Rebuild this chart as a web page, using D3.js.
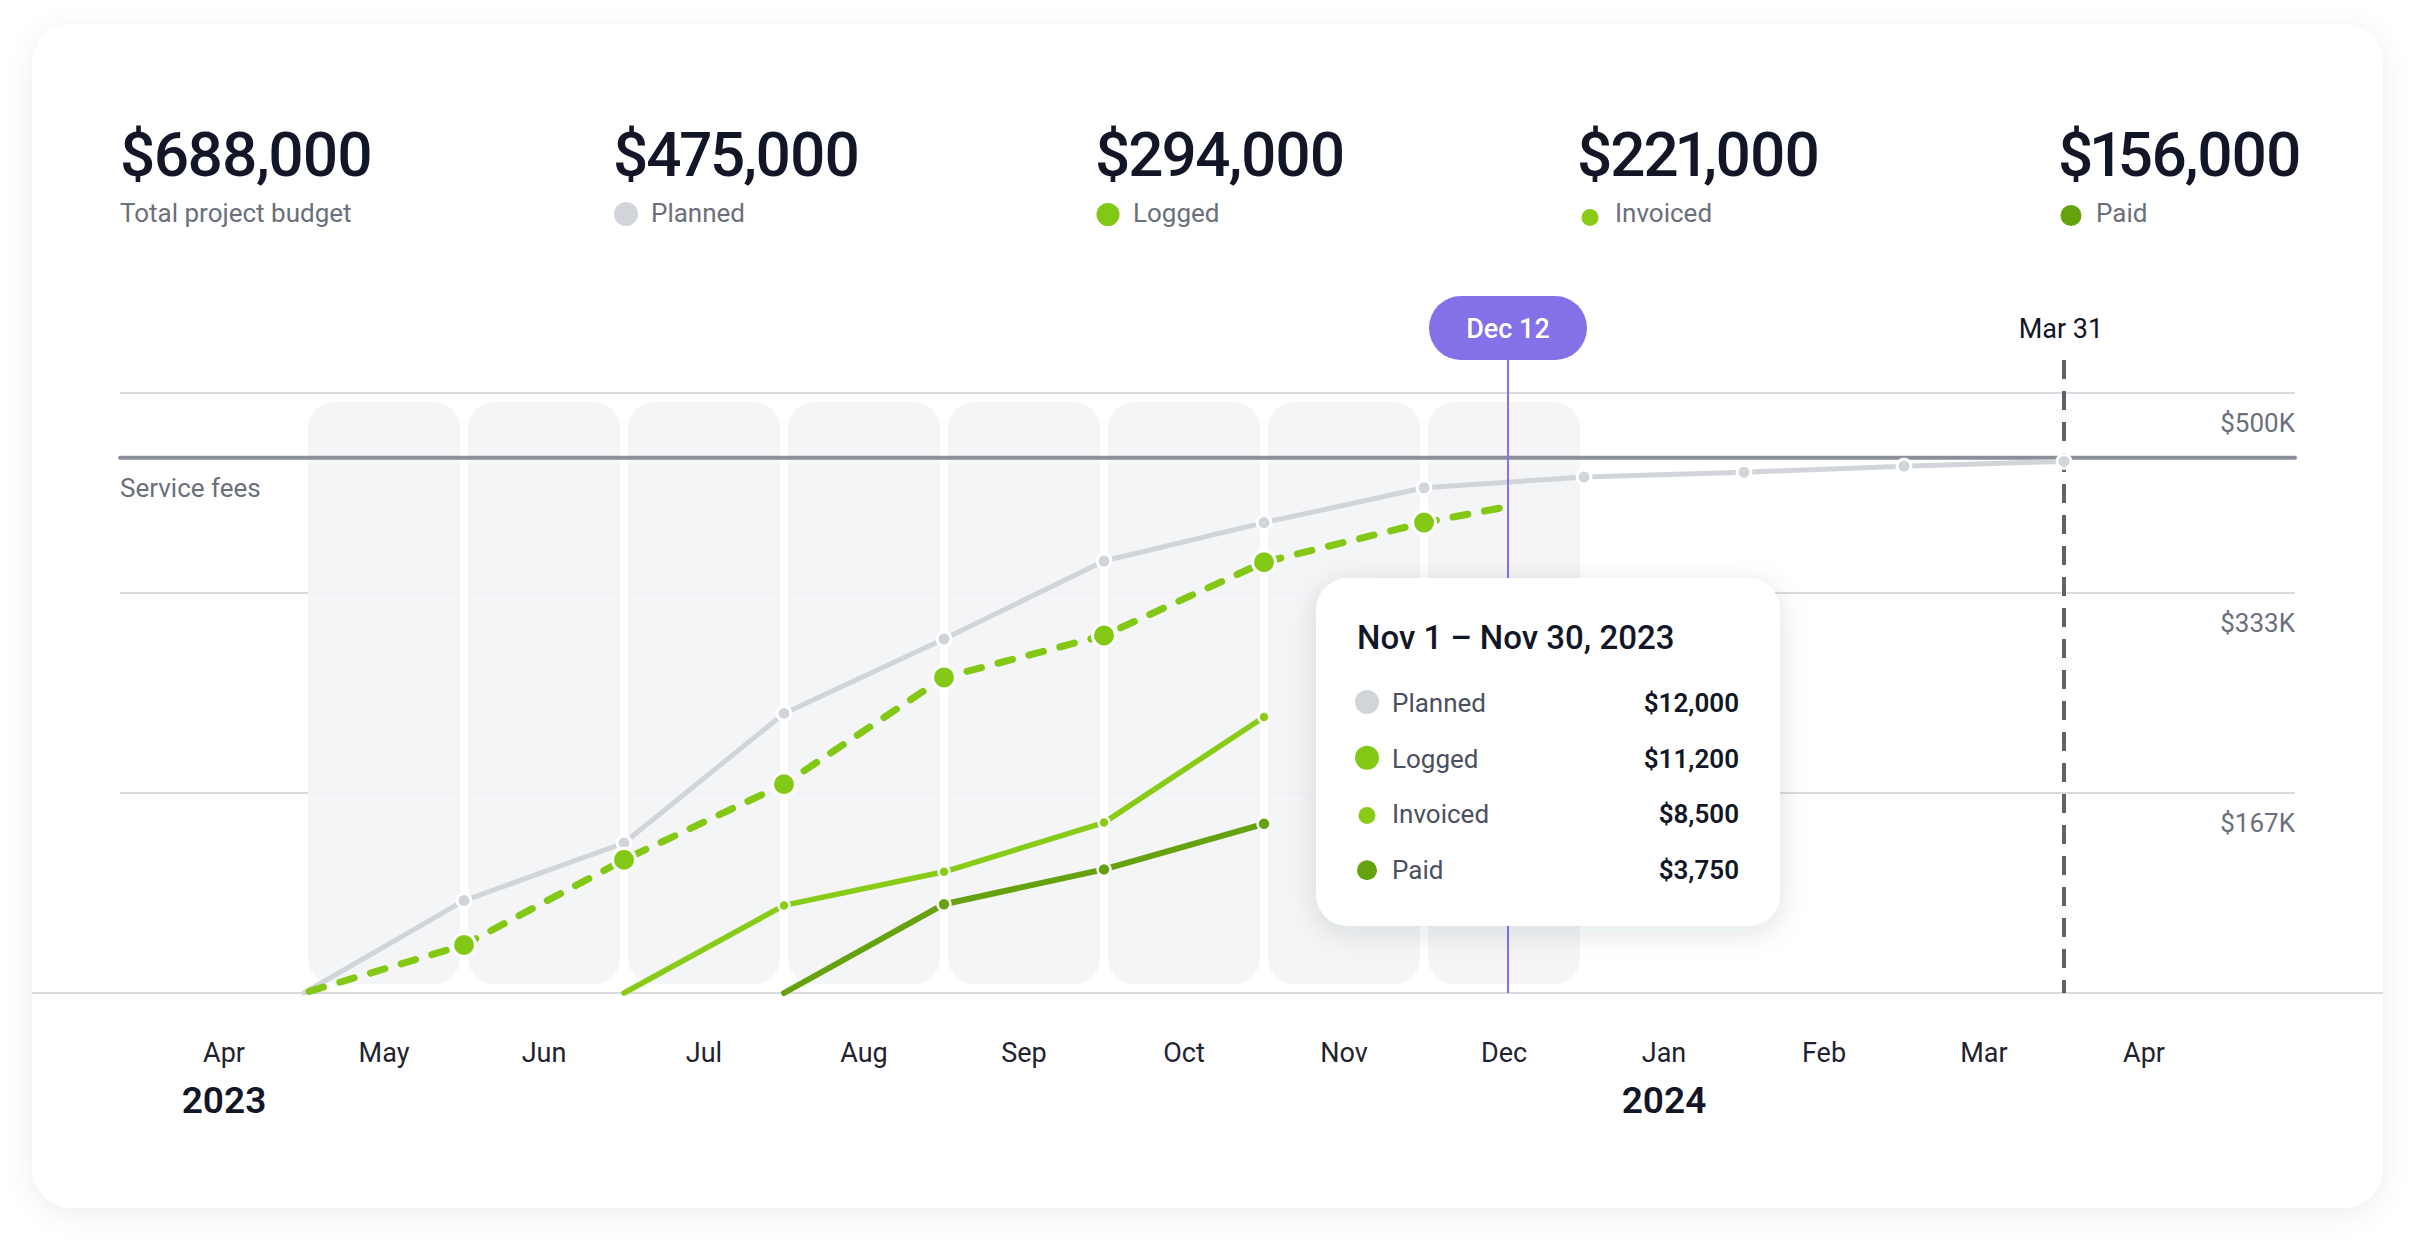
<!DOCTYPE html>
<html><head><meta charset="utf-8">
<script src="https://cdn.jsdelivr.net/npm/d3@7"></script>
<style>
html,body{margin:0;padding:0;background:#ffffff;}
svg{display:block;font-family:Roboto,"Noto Sans",sans-serif;}
.kpi{font-feature-settings:"pnum" 1;font-variant-numeric:proportional-nums;}
</style></head>
<body>
<svg id="chart" width="2416" height="1248"></svg>
<script>
// ---------- data ----------
const kpiValues = ["$688,000", "$475,000", "$294,000", "$221,000", "$156,000"];
const kpiLabels = ["Total project budget", "Planned", "Logged", "Invoiced", "Paid"];
const monthLabels = ["Apr","May","Jun","Jul","Aug","Sep","Oct","Nov","Dec","Jan","Feb","Mar","Apr"];
const yearLabels = ["2023", "2024"];
const yearMonthIndex = [0, 9];
const shadedMonthIndex = [1, 2, 3, 4, 5, 6, 7, 8];           // May .. Dec
const periodStarts = ["May 1","Jun 1","Jul 1","Aug 1","Sep 1","Oct 1","Nov 1","Dec 1","Jan 1","Feb 1","Mar 1","Apr 1"];
const periodMonth = [1, 2, 3, 4, 5, 6, 7, 8, 9, 10, 11, 12];  // month boundary index
const planned  = [0, 77, 125, 233, 295, 360, 392, 421, 430, 434, 439, 443];   // $K cumulative
const logged   = [0, 40, 111, 174, 263, 298, 359, 392];
const loggedToDateMonth = 8.47, loggedToDate = 404;
const invoiced = [null, null, 0, 73, 101, 142, 230];
const paid     = [null, null, null, 0, 74, 103, 141];
const serviceFees = 446;
const yTickValues = [500/3, 1000/3, 500];
const yTickLabels = ["$167K", "$333K", "$500K"];
const todayLabel = "Dec 12", todayMonth = 8.525;
const endLabel = "Mar 31", endMonth = 12;
const tooltipTitle = "Nov 1 \u2013 Nov 30, 2023";
const tooltipSeries = ["Planned", "Logged", "Invoiced", "Paid"];
const tooltipValues = ["$12,000", "$11,200", "$8,500", "$3,750"];

// ---------- style / layout ----------
const C = {
  planned: "#d1d4d9", logged: "#84c816", invoiced: "#88cc18", paid: "#66a10e",
  text: "#121626", sub: "#6b6f7a", grid: "#d8dadd", band: "#f3f4f6",
  fees: "#8b8f99", purple: "#8371e8", dash: "#5f626d"
};
const kpiLeft = [120, 613, 1095, 1577, 2058];
const legendR = {Planned: 12, Logged: 11.5, Invoiced: 8.5, Paid: 10.5};
const tipR = {Planned: 12, Logged: 12, Invoiced: 8.5, Paid: 10};
const colorOf = {Planned: C.planned, Logged: C.logged, Invoiced: C.invoiced, Paid: C.paid};

const svg = d3.select("#chart");
const defs = svg.append("defs");
const f1 = defs.append("filter").attr("id","cardShadow").attr("x","-10%").attr("y","-10%").attr("width","120%").attr("height","125%");
f1.append("feDropShadow").attr("dx",0).attr("dy",6).attr("stdDeviation",14).attr("flood-color","#000").attr("flood-opacity",0.07);
const f2 = defs.append("filter").attr("id","tipShadow").attr("x","-20%").attr("y","-20%").attr("width","140%").attr("height","150%");
f2.append("feDropShadow").attr("dx",0).attr("dy",6).attr("stdDeviation",14).attr("flood-color","#1f2433").attr("flood-opacity",0.13);

// card
svg.append("rect").attr("x",32).attr("y",24).attr("width",2351).attr("height",1184).attr("rx",40)
  .attr("fill","#fff").attr("filter","url(#cardShadow)");

// ---------- scales ----------
const x = d3.scaleLinear().domain([0, 13]).range([144, 2224]);
const y = d3.scaleLinear().domain([0, 500]).range([993, 393]);
const left = 120, right = 2295;

// ---------- KPI header ----------
const kpi = svg.append("g");
kpiValues.forEach((v, i) => {
  kpi.append("text").attr("class", "kpi").attr("x", kpiLeft[i]).attr("y", 176).attr("font-size", 62).attr("font-weight", 500)
    .attr("fill", C.text).attr("letter-spacing", -2).text(v);
  const name = kpiLabels[i];
  let tx = kpiLeft[i];
  if (i > 0) {
    const r = legendR[name];
    kpi.append("circle").attr("cx", kpiLeft[i] + 13).attr("cy", 226 - r).attr("r", r).attr("fill", colorOf[name]);
    tx = kpiLeft[i] + 38;
  }
  kpi.append("text").attr("x", tx).attr("y", 222).attr("font-size", 26).attr("fill", C.sub).text(name);
});

// ---------- grid ----------
const g = svg.append("g");
g.selectAll(".grid").data(yTickValues).join("line")
  .attr("x1", left).attr("x2", right).attr("y1", d => y(d)).attr("y2", d => y(d))
  .attr("stroke", C.grid).attr("stroke-width", 2);
g.append("line").attr("x1", 32).attr("x2", 2383).attr("y1", y(0)).attr("y2", y(0))
  .attr("stroke", C.grid).attr("stroke-width", 2);
g.selectAll(".ylab").data(yTickValues).join("text")
  .attr("x", right).attr("y", d => y(d) + 39).attr("text-anchor", "end")
  .attr("font-size", 26).attr("fill", C.sub).text((d, i) => yTickLabels[i]);

// shaded month columns
const bandTop = 402, bandBottom = 984;
g.selectAll(".band").data(shadedMonthIndex).join("rect")
  .attr("x", d => x(d) + 4).attr("width", d => x(d + 1) - x(d) - 8)
  .attr("y", bandTop).attr("height", bandBottom - bandTop).attr("rx", 26)
  .attr("fill", C.band).attr("fill-opacity", 0.92);
g.selectAll(".sep").data(shadedMonthIndex.slice(1)).join("line")
  .attr("x1", d => x(d)).attr("x2", d => x(d)).attr("y1", bandTop).attr("y2", bandBottom)
  .attr("stroke", "#fff").attr("stroke-width", 8);

// service fees
g.append("line").attr("x1", left).attr("x2", right).attr("y1", y(serviceFees)).attr("y2", y(serviceFees))
  .attr("stroke", C.fees).attr("stroke-width", 4).attr("stroke-linecap", "round");
g.append("text").attr("x", left).attr("y", y(serviceFees) + 39).attr("font-size", 26).attr("fill", C.sub).text("Service fees");

// month axis
g.selectAll(".mlab").data(monthLabels).join("text")
  .attr("x", (d, i) => x(i + 0.5)).attr("y", 1062).attr("text-anchor", "middle")
  .attr("font-size", 27).attr("fill", "#1f2330").text(d => d);
g.selectAll(".ylab2").data(yearLabels).join("text")
  .attr("x", (d, i) => x(yearMonthIndex[i] + 0.5)).attr("y", 1113).attr("text-anchor", "middle")
  .attr("font-size", 37).attr("font-weight", 600).attr("fill", C.text).text(d => d);

// end marker (Mar 31)
g.append("line").attr("x1", x(endMonth)).attr("x2", x(endMonth)).attr("y1", 360).attr("y2", y(0))
  .attr("stroke", C.dash).attr("stroke-width", 4).attr("stroke-dasharray", "19 12");
g.append("text").attr("x", x(endMonth) - 3).attr("y", 338).attr("text-anchor", "middle")
  .attr("font-size", 27).attr("fill", C.text).text(endLabel);

// ---------- series ----------
const line = d3.line().defined(d => d.v != null).x(d => x(d.m)).y(d => y(d.v));
const toPts = arr => arr.map((v, i) => ({m: periodMonth[i], v: v, p: periodStarts[i]}));
const plannedPts = toPts(planned);
const loggedPts = toPts(logged).concat([{m: loggedToDateMonth, v: loggedToDate, p: todayLabel}]);
const invoicedPts = toPts(invoiced);
const paidPts = toPts(paid);

const s = svg.append("g").attr("fill", "none").attr("stroke-linecap", "round").attr("stroke-linejoin", "round");
s.append("path").datum(plannedPts).attr("d", line).attr("stroke", C.planned).attr("stroke-width", 5);
s.append("path").datum(paidPts).attr("d", line).attr("stroke", C.paid).attr("stroke-width", 6);
s.append("path").datum(invoicedPts).attr("d", line).attr("stroke", C.invoiced).attr("stroke-width", 5.5);
const lp = s.append("path").datum(loggedPts).attr("d", line).attr("stroke", C.logged).attr("stroke-width", 7)
  .attr("stroke-dasharray", "15 17");
// align the pattern so a dash finishes exactly at the latest logged point
const L = lp.node().getTotalLength();
lp.attr("stroke-dashoffset", ((Math.ceil(L / 32) * 32 + 15 - L) % 32 + 32) % 32);

function dots(pts, r, sw, color) {
  svg.append("g").selectAll("circle").data(pts.filter(d => d.v != null && d.v > 0 && d.p !== todayLabel)).join("circle")
    .attr("cx", d => x(d.m)).attr("cy", d => y(d.v)).attr("r", r)
    .attr("fill", color).attr("stroke", "#fff").attr("stroke-width", sw);
}
dots(plannedPts, 7, 3, C.planned);
dots(paidPts, 6.5, 2.5, C.paid);
dots(invoicedPts, 5.5, 2.5, C.invoiced);
dots(loggedPts, 11.5, 3, C.logged);

// today marker
svg.append("line").attr("x1", x(todayMonth)).attr("x2", x(todayMonth)).attr("y1", 360).attr("y2", y(0))
  .attr("stroke", C.purple).attr("stroke-width", 2);
svg.append("rect").attr("x", x(todayMonth) - 79).attr("y", 296).attr("width", 158).attr("height", 64).attr("rx", 32)
  .attr("fill", C.purple);
svg.append("text").attr("x", x(todayMonth)).attr("y", 338).attr("text-anchor", "middle")
  .attr("font-size", 27).attr("font-weight", 500).attr("fill", "#fff").text(todayLabel);

// ---------- tooltip ----------
const tip = svg.append("g");
tip.append("rect").attr("x", 1316).attr("y", 578).attr("width", 464).attr("height", 348).attr("rx", 32)
  .attr("fill", "#fff").attr("filter", "url(#tipShadow)");
tip.append("text").attr("x", 1357).attr("y", 649).attr("font-size", 33).attr("font-weight", 500)
  .attr("fill", C.text).text(tooltipTitle);
const rowY = d3.scalePoint().domain(tooltipSeries).range([712, 879]);
tooltipSeries.forEach((name, i) => {
  const by = rowY(name);
  tip.append("circle").attr("cx", 1367).attr("cy", by - 10 + (12 - tipR[name]) * 0.6).attr("r", tipR[name]).attr("fill", colorOf[name]);
  tip.append("text").attr("x", 1392).attr("y", by).attr("font-size", 26).attr("fill", "#4b5060").text(name);
  tip.append("text").attr("x", 1739).attr("y", by).attr("text-anchor", "end").attr("font-size", 26)
    .attr("font-weight", 600).attr("fill", C.text).text(tooltipValues[i]);
});
</script>
</body></html>
